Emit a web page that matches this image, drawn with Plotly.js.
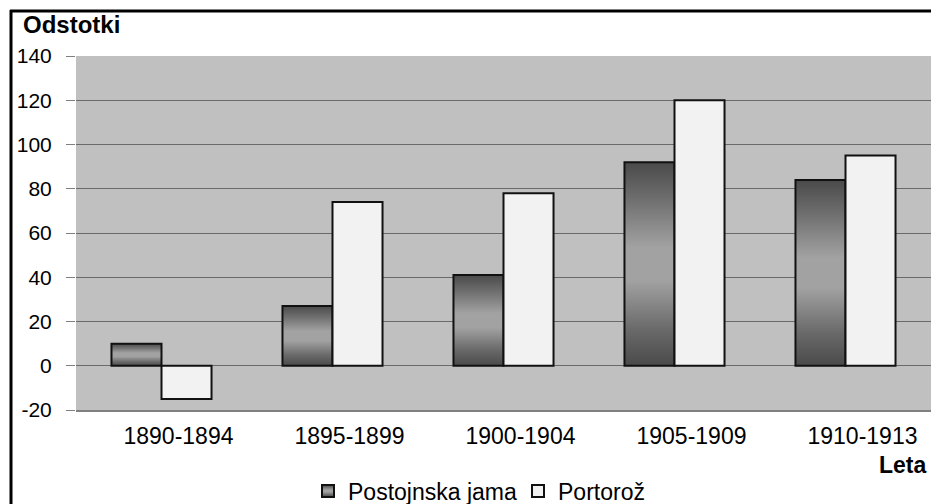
<!DOCTYPE html>
<html>
<head>
<meta charset="utf-8">
<script src="https://cdn.plot.ly/plotly-3.0.1.min.js"></script>
<style>
  html, body { margin: 0; padding: 0; background: #ffffff; }
  #chart { width: 931px; height: 504px; }
</style>
</head>
<body>
<div id="chart"></div>
<script>
// ---- data ----
const categories = ["1890-1894", "1895-1899", "1900-1904", "1905-1909", "1910-1913"];
const postojnskaJama = [10, 27, 41, 92, 84];
const portoroz = [-15, 74, 78, 120, 95];
const seriesNames = ["Postojnska jama", "Portorož"];
const yTickVals = [-20, 0, 20, 40, 60, 80, 100, 120, 140];

const FONT = "Liberation Sans, Arial, sans-serif";

const traces = [
  {
    type: "bar",
    name: seriesNames[0],
    x: categories,
    y: postojnskaJama,
    marker: { color: "#7a7a7a", line: { color: "#111111", width: 2 } },
    hoverinfo: "x+y+name"
  },
  {
    type: "bar",
    name: seriesNames[1],
    x: categories,
    y: portoroz,
    marker: { color: "#f2f2f2", line: { color: "#111111", width: 2 } },
    hoverinfo: "x+y+name"
  }
];

const W = 931, H = 504;
const L = 76, R = 931, T = 56, B = 410;
const px2paperX = (px) => (px - L) / (R - L);
const px2paperY = (py) => (B - py) / (B - T);

const layout = {
  width: W,
  height: H,
  margin: { l: L, r: W - R, t: T, b: H - B, pad: 0 },
  paper_bgcolor: "#ffffff",
  plot_bgcolor: "#c0c0c0",
  font: { family: FONT, color: "#000000" },
  barmode: "group",
  bargap: 0.415,
  bargroupgap: 0,
  showlegend: true,
  title: {
    text: "Odstotki",
    font: { family: FONT, size: 24, weight: "bold", color: "#000000" },
    xref: "container", x: 23 / W, xanchor: "left",
    yref: "container", y: 1 - 25 / H, yanchor: "middle"
  },
  xaxis: {
    type: "category",
    showgrid: false,
    showline: true,
    linecolor: "#808080",
    linewidth: 2,
    ticks: "",
    tickfont: { family: FONT, size: 23, color: "#000000" },
    ticklabelshift: 17,
    ticklabelstandoff: 4,
    zeroline: false,
    fixedrange: true
  },
  yaxis: {
    range: [-20, 140],
    tickvals: yTickVals,
    ticktext: yTickVals.map(String),
    showgrid: true,
    gridcolor: "#6a6a6a",
    gridwidth: 1,
    zeroline: true,
    zerolinecolor: "#6a6a6a",
    zerolinewidth: 1,
    showline: false,
    ticks: "outside",
    ticklen: 9,
    tickwidth: 1,
    tickcolor: "#808080",
    tickfont: { family: FONT, size: 21, color: "#000000" },
    ticklabelstandoff: 10,
    fixedrange: true
  },
  legend: {
    orientation: "h",
    xref: "container", x: 308 / W, xanchor: "left",
    yref: "container", y: 1 - 491 / H, yanchor: "middle",
    font: { family: FONT, size: 23, color: "#000000" },
    bgcolor: "rgba(0,0,0,0)",
    borderwidth: 0,
    entrywidth: 165,
    entrywidthmode: "pixels"
  },
  annotations: [
    {
      text: "Leta",
      xref: "paper", x: px2paperX(929), xanchor: "right",
      yref: "paper", y: px2paperY(465), yanchor: "middle",
      showarrow: false,
      font: { family: FONT, size: 23, weight: "bold", color: "#000000" }
    }
  ],
  shapes: [
    {
      type: "line", layer: "above",
      xref: "paper", yref: "paper",
      x0: px2paperX(11), x1: px2paperX(11),
      y0: px2paperY(10), y1: px2paperY(504),
      line: { color: "#000000", width: 3 }
    },
    {
      type: "line", layer: "above",
      xref: "paper", yref: "paper",
      x0: px2paperX(10), x1: px2paperX(931),
      y0: px2paperY(11), y1: px2paperY(11),
      line: { color: "#000000", width: 3 }
    }
  ]
};

Plotly.newPlot("chart", traces, layout, { displayModeBar: false, staticPlot: true }).then(function (gd) {
  // vertical metallic gradient for the dark series (bars + legend swatch)
  const svgNS = "http://www.w3.org/2000/svg";
  const svg = gd.querySelector("svg.main-svg");
  let defs = svg.querySelector("defs");
  if (!defs) { defs = document.createElementNS(svgNS, "defs"); svg.insertBefore(defs, svg.firstChild); }
  const grad = document.createElementNS(svgNS, "linearGradient");
  grad.setAttribute("id", "darkMetal");
  grad.setAttribute("x1", "0"); grad.setAttribute("y1", "0");
  grad.setAttribute("x2", "0"); grad.setAttribute("y2", "1");
  const stops = [[0, "#4a4a4a"], [0.18, "#6e6e6e"], [0.42, "#a2a2a2"], [0.58, "#a2a2a2"], [0.82, "#6a6a6a"], [1, "#4a4a4a"]];
  stops.forEach(function (s) {
    const st = document.createElementNS(svgNS, "stop");
    st.setAttribute("offset", s[0]);
    st.setAttribute("stop-color", s[1]);
    grad.appendChild(st);
  });
  defs.appendChild(grad);
  const barTraces = gd.querySelectorAll(".barlayer .trace");
  if (barTraces.length) {
    barTraces[0].querySelectorAll("path").forEach(function (p) { p.style.fill = "url(#darkMetal)"; });
  }
  const legTraces = gd.querySelectorAll(".legend .traces");
  if (legTraces.length) {
    legTraces[0].querySelectorAll(".legendpoints path").forEach(function (p) { p.style.fill = "url(#darkMetal)"; });
  }
});
</script>
</body>
</html>
